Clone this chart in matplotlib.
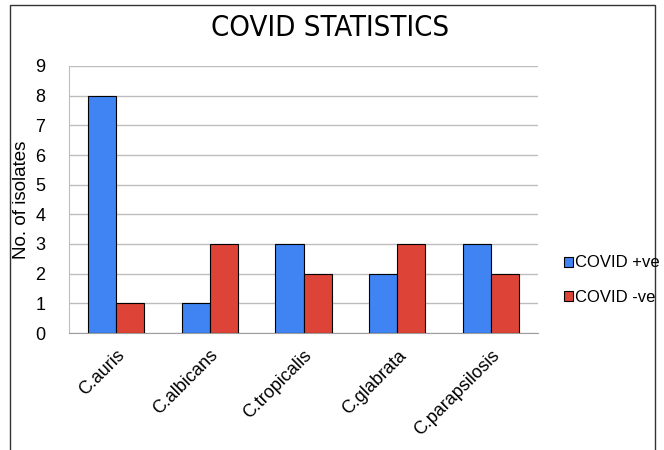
import matplotlib
matplotlib.use('Agg')
import matplotlib.pyplot as plt
import numpy as np
from matplotlib.patches import Rectangle

species = ['C.auris', 'C.albicans', 'C.tropicalis', 'C.glabrata', 'C.parapsilosis']
covid_pos = [8, 1, 3, 2, 3]
covid_neg = [1, 3, 2, 3, 2]
series_names = ['COVID +ve', 'COVID -ve']
yticks = list(range(0, 10))

plt.rcParams['font.family'] = ['Liberation Sans', 'DejaVu Sans']

fig = plt.figure(figsize=(6.64, 4.5), dpi=100)
ax = fig.add_axes([69 / 664, 1 - 333 / 450, 469 / 664, 267 / 450])

x = np.arange(len(species))
w = 0.3
b1 = ax.bar(x - w / 2, covid_pos, w, color='#3f84f2', edgecolor='black', linewidth=0.8,
            label=series_names[0], zorder=3)
b2 = ax.bar(x + w / 2, covid_neg, w, color='#de4337', edgecolor='black', linewidth=0.8,
            label=series_names[1], zorder=3)

ax.set_xlim(-0.5, len(species) - 0.5)
ax.set_ylim(0, 9)
ax.set_yticks(yticks)
ax.yaxis.grid(True, color='#bdbdbd', linewidth=1, zorder=0)
for s in ['top', 'right']:
    ax.spines[s].set_visible(False)
ax.spines['left'].set_color('#bdbdbd')
ax.spines['bottom'].set_color('#9e9e9e')
ax.tick_params(axis='y', length=0, pad=17, labelsize=13)
ax.tick_params(axis='x', length=0, pad=10, labelsize=13)
ax.set_xticks(x)
ax.set_xticklabels(species, rotation=45, ha='right', rotation_mode='anchor')
ax.set_ylabel('No. of isolates', fontsize=13.5, labelpad=4)

fig.text(0.497, 1 - 28 / 450, 'COVID STATISTICS', ha='center', va='center',
         fontsize=21, family='DejaVu Sans', fontstretch='condensed')

fig.legend(handles=[b1, b2], loc='center left', bbox_to_anchor=(557 / 664, 1 - 280 / 450),
           frameon=False, fontsize=12, handlelength=0.55, handleheight=0.55,
           handletextpad=0.12, labelspacing=1.15, borderaxespad=0)

# outer frame around the chart
fig.patches.append(Rectangle((10 / 664, -0.01), 645 / 664, 1 - 5 / 450 + 0.01,
                             transform=fig.transFigure, fill=False,
                             edgecolor='#333333', linewidth=1))

fig.savefig('out.png', dpi=100)
